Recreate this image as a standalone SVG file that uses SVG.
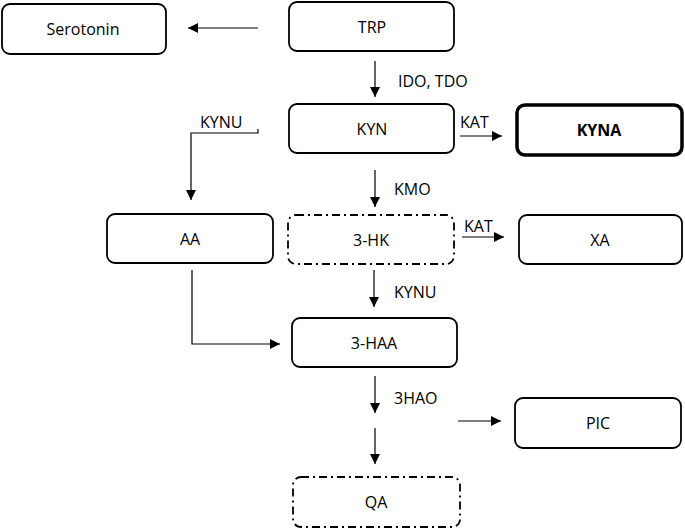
<svg xmlns="http://www.w3.org/2000/svg" width="685" height="529" viewBox="0 0 685 529">
<defs>
<style>
.box{fill:#fff;stroke:#000;stroke-width:1.8}
.thick{stroke-width:3.5}
.dd{stroke-dasharray:8 4 2 4}
.t{font-family:"Open Sans","Liberation Sans",sans-serif;font-size:16px;fill:#000;text-anchor:middle;dominant-baseline:central}
.b{font-weight:bold}
.lb{font-family:"Open Sans","Liberation Sans",sans-serif;font-size:16px;fill:#000;dominant-baseline:central}
.ln{fill:none;stroke:#000;stroke-width:1.2}
</style>
<marker id="ah" viewBox="0 0 10 10" refX="10" refY="5" markerWidth="10" markerHeight="10" markerUnits="userSpaceOnUse" orient="auto">
<path d="M0,0 L10,5 L0,10 z" fill="#000"/>
</marker>
</defs>
<g id="Serotonin"><rect class="box" x="2" y="4" width="164" height="50" rx="8"/><text class="t" x="83" y="29">Serotonin</text></g>
<g id="TRP"><rect class="box" x="289" y="2" width="165" height="49" rx="8"/><text class="t" x="372" y="27">TRP</text></g>
<g id="KYN"><rect class="box" x="289" y="104" width="165" height="49" rx="8"/><text class="t" x="372" y="129">KYN</text></g>
<g id="KYNA"><rect class="box thick" x="517" y="105" width="165" height="50" rx="8"/><text class="t b" x="599" y="130">KYNA</text></g>
<g id="AA"><rect class="box" x="107" y="214" width="166" height="49" rx="8"/><text class="t" x="190" y="239">AA</text></g>
<g id="3-HK"><rect class="box dd" x="288" y="215" width="166" height="49" rx="8"/><text class="t" x="371" y="240">3-HK</text></g>
<g id="XA"><rect class="box" x="519" y="215" width="163" height="49" rx="8"/><text class="t" x="600" y="240">XA</text></g>
<g id="3-HAA"><rect class="box" x="292" y="318" width="165" height="49" rx="8"/><text class="t" x="374" y="343">3-HAA</text></g>
<g id="PIC"><rect class="box" x="515" y="398" width="166" height="50" rx="8"/><text class="t" x="598" y="423">PIC</text></g>
<g id="QA"><rect class="box dd" x="293" y="477" width="167" height="50" rx="8"/><text class="t" x="376" y="502">QA</text></g>
<g id="connectors">
<line class="ln" x1="258" y1="28" x2="188" y2="28" marker-end="url(#ah)"/>
<line class="ln" x1="375" y1="61" x2="375" y2="97" marker-end="url(#ah)"/>
<path class="ln" d="M258,129 V133 H191 V200" marker-end="url(#ah)"/>
<line class="ln" x1="460" y1="136" x2="502" y2="136" marker-end="url(#ah)"/>
<line class="ln" x1="375" y1="170" x2="375" y2="207" marker-end="url(#ah)"/>
<line class="ln" x1="462" y1="237" x2="504" y2="237" marker-end="url(#ah)"/>
<path class="ln" d="M192,270 V344 H280" marker-end="url(#ah)"/>
<line class="ln" x1="374" y1="270" x2="374" y2="307" marker-end="url(#ah)"/>
<line class="ln" x1="375" y1="376" x2="375" y2="413" marker-end="url(#ah)"/>
<line class="ln" x1="375" y1="428" x2="375" y2="464" marker-end="url(#ah)"/>
<line class="ln" x1="458" y1="421" x2="501" y2="421" marker-end="url(#ah)"/>
<text class="lb" x="398" y="81">IDO, TDO</text>
<text class="lb" x="200" y="122">KYNU</text>
<text class="lb" x="460" y="122">KAT</text>
<text class="lb" x="394" y="189">KMO</text>
<text class="lb" x="464" y="226">KAT</text>
<text class="lb" x="394" y="292">KYNU</text>
<text class="lb" x="394" y="398">3HAO</text>
</g>
</svg>
